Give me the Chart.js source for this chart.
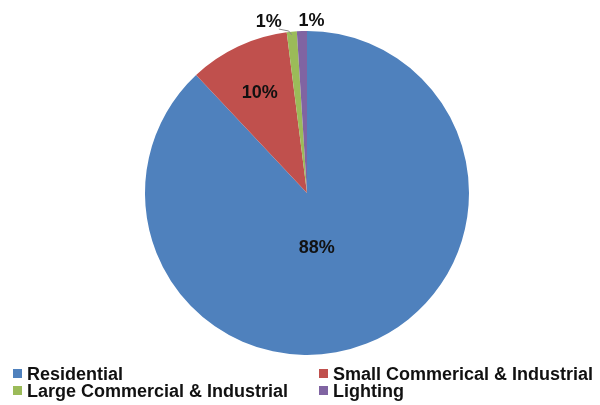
<!DOCTYPE html>
<html>
<head>
<meta charset="utf-8">
<script src="https://cdn.jsdelivr.net/npm/chart.js"></script>
<style>
  html, body { margin: 0; padding: 0; background: #fff; }
  #wrap { width: 600px; height: 405px; }
</style>
</head>
<body>
<div id="wrap"><canvas id="myChart" width="600" height="405"></canvas></div>
<script>
// slices, clockwise from 12 o'clock
const categories = [
  "Residential",
  "Small Commerical & Industrial",
  "Large Commercial & Industrial",
  "Lighting"
];
const shares = [88, 10, 1, 1];
const pctLabels = ["88%", "10%", "1%", "1%"];

const colors = ["#4f81bd", "#c0504d", "#9bbb59", "#8064a2"];
const FONT = "'Liberation Sans', Arial, sans-serif";

// percent labels drawn on / beside each arc
const sliceLabels = {
  id: "sliceLabels",
  afterDatasetsDraw(chart, args, opts) {
    const ctx = chart.ctx;
    const meta = chart.getDatasetMeta(0);
    ctx.save();
    ctx.font = "bold 18px " + FONT;
    ctx.fillStyle = "#111";
    ctx.textAlign = "center";
    ctx.textBaseline = "middle";
    meta.data.forEach((arc, i) => {
      const p = arc.getProps(["x", "y", "startAngle", "endAngle", "outerRadius"], true);
      const mid = (p.startAngle + p.endAngle) / 2 + (opts.angleShift[i] || 0);
      const r = p.outerRadius * opts.radius[i];
      let tx = p.x + Math.cos(mid) * r + (opts.dx[i] || 0);
      let ty = p.y + Math.sin(mid) * r;
      ctx.fillText(pctLabels[i], tx, ty);
      if (opts.leader[i]) {
        const ex = p.x + Math.cos(mid) * p.outerRadius;
        const ey = p.y + Math.sin(mid) * p.outerRadius;
        ctx.strokeStyle = "#8a8a8a";
        ctx.lineWidth = 1;
        ctx.beginPath();
        ctx.moveTo(tx + 10, ty + 7);
        ctx.lineTo(ex - 3, ty + 9);
        ctx.lineTo(ex, ey + 3);
        ctx.stroke();
      }
    });
    ctx.restore();
  }
};

// two-column legend under the pie
const gridLegend = {
  id: "gridLegend",
  afterDraw(chart, args, opts) {
    const ctx = chart.ctx;
    ctx.save();
    ctx.font = "bold 18px " + FONT;
    ctx.textAlign = "left";
    ctx.textBaseline = "alphabetic";
    categories.forEach((name, i) => {
      const x = opts.cols[i % 2];
      const y = opts.rows[Math.floor(i / 2)];
      ctx.fillStyle = colors[i];
      ctx.fillRect(x, y - 11, 9, 9);
      ctx.fillStyle = "#111";
      ctx.fillText(name, x + 14, y);
    });
    ctx.restore();
  }
};

new Chart(document.getElementById("myChart"), {
  type: "pie",
  data: {
    labels: categories,
    datasets: [{
      data: shares,
      backgroundColor: colors,
      borderWidth: 0
    }]
  },
  options: {
    responsive: false,
    animation: false,
    layout: { padding: { top: 31, bottom: 50, left: 14, right: 0 } },
    plugins: {
      legend: { display: false },
      tooltip: { enabled: false },
      sliceLabels: {
        radius: [0.345, 0.685, 1.06, 1.06],
        angleShift: [0.2, 0, 0, 0],
        dx: [0, 0, -22, 10],
        leader: [false, false, true, false]
      },
      gridLegend: { cols: [13, 319], rows: [380, 397] }
    }
  },
  plugins: [sliceLabels, gridLegend]
});
</script>
</body>
</html>
